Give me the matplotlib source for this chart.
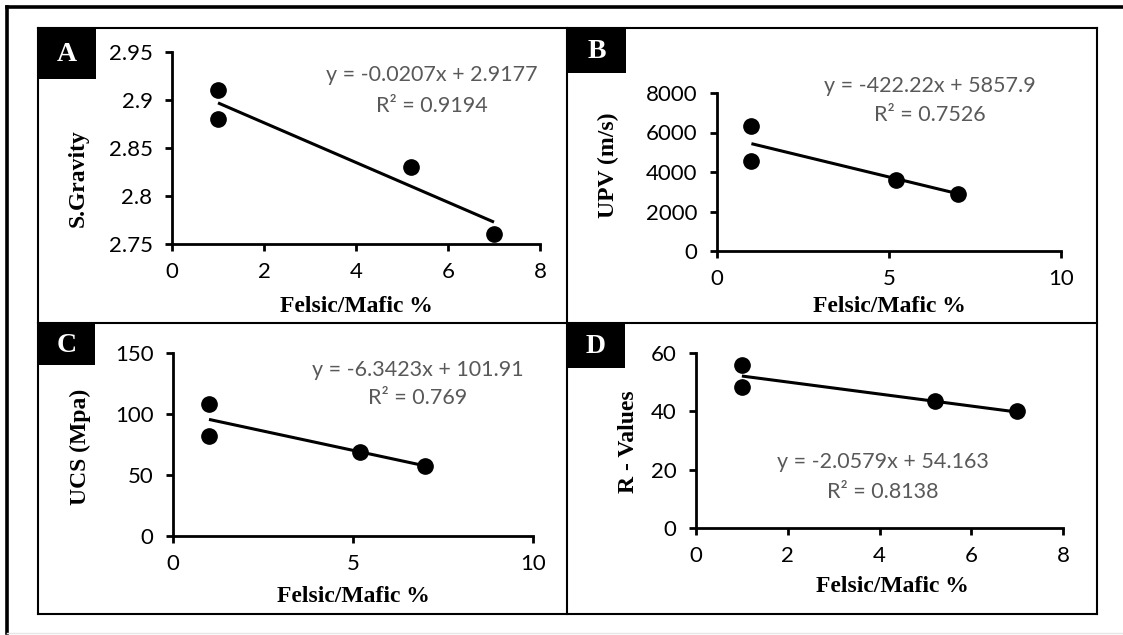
import matplotlib
matplotlib.use("Agg")
import matplotlib.pyplot as plt
from matplotlib.lines import Line2D
from matplotlib.patches import Rectangle
import numpy as np

# ---------------- data ----------------
felsic_mafic = [1.0, 1.0, 5.2, 7.0]

sgravity = [2.91, 2.88, 2.83, 2.76]
upv = [6350, 4550, 3600, 2900]
ucs = [108, 82, 69, 57]
r_values = [56, 48.5, 43.5, 40]

fits = {
    "A": (-0.0207, 2.9177, "y = -0.0207x + 2.9177", "R² = 0.9194"),
    "B": (-422.22, 5857.9, "y = -422.22x + 5857.9", "R² = 0.7526"),
    "C": (-6.3423, 101.91, "y = -6.3423x + 101.91", "R² = 0.769"),
    "D": (-2.0579, 54.163, "y = -2.0579x + 54.163", "R² = 0.8138"),
}

ylabels = {"A": "S.Gravity", "B": "UPV (m/s)", "C": "UCS (Mpa)", "D": "R - Values"}
xlabel_text = "Felsic/Mafic %"
yticks = {
    "A": [2.75, 2.8, 2.85, 2.9, 2.95],
    "B": [0, 2000, 4000, 6000, 8000],
    "C": [0, 50, 100, 150],
    "D": [0, 20, 40, 60],
}
ytick_labels = {
    "A": ["2.75", "2.8", "2.85", "2.9", "2.95"],
    "B": ["0", "2000", "4000", "6000", "8000"],
    "C": ["0", "50", "100", "150"],
    "D": ["0", "20", "40", "60"],
}
xticks = {"A": [0, 2, 4, 6, 8], "B": [0, 5, 10], "C": [0, 5, 10], "D": [0, 2, 4, 6, 8]}
series = {"A": sgravity, "B": upv, "C": ucs, "D": r_values}

# ---------------- layout (pixels) ----------------
W, H = 1123, 635
fig = plt.figure(figsize=(W / 100, H / 100), dpi=100)
fig.patch.set_facecolor("white")

def fx(px):
    return px / W

def fy(py):
    return 1 - py / H

# axes rectangles: left, right, top, bottom in pixels
ax_px = {
    "A": (172, 540, 52, 244),
    "B": (717, 1061, 93, 251),
    "C": (173, 533, 353, 536),
    "D": (696, 1063, 353, 528),
}
# label boxes: left, right, top, bottom
lab_px = {
    "A": (38, 96, 28, 79),
    "B": (567, 626, 28, 73),
    "C": (38, 95, 323, 365),
    "D": (567, 625, 323, 368),
}
# equation text centres (x, y_eq, y_r2)
eq_px = {
    "A": (432, 75, 106),
    "B": (930, 86, 115),
    "C": (418, 370, 398),
    "D": (883, 462, 492),
}
# y-label centre (x, y) and x-label centre (x, y)
ylab_px = {"A": (78, 178), "B": (608, 165), "C": (80, 447), "D": (628, 442)}
xlab_px = {"A": (356, 307), "B": (889, 306), "C": (353, 597), "D": (892, 587)}

tick_font = "Lato"
serif = "Liberation Serif"

for key in ["A", "B", "C", "D"]:
    l, r, t, b = ax_px[key]
    ax = fig.add_axes([fx(l), fy(b), fx(r) - fx(l), fy(t) - fy(b)])
    ax.set_facecolor("none")
    x = felsic_mafic
    y = series[key]
    ax.plot(x, y, "o", color="black", markersize=11, zorder=3, clip_on=False)
    m, c, eq, r2 = fits[key]
    xs = np.array([min(x), max(x)])
    ax.plot(xs, m * xs + c, color="black", linewidth=2.2, solid_capstyle="butt", zorder=2)

    ax.set_xlim(xticks[key][0], xticks[key][-1])
    ax.set_ylim(yticks[key][0], yticks[key][-1])
    ax.set_xticks(xticks[key])
    ax.set_xticklabels([str(v) for v in xticks[key]])
    ax.set_yticks(yticks[key])
    ax.set_yticklabels(ytick_labels[key])
    for s in ["top", "right"]:
        ax.spines[s].set_visible(False)
    for s in ["left", "bottom"]:
        ax.spines[s].set_linewidth(2.0)
    ax.tick_params(axis="both", direction="out", length=5, width=2.0, labelsize=16,
                   color="black", labelcolor="black")
    ax.tick_params(axis="x", pad=8)
    ax.tick_params(axis="y", pad=9)
    for lab in ax.get_xticklabels() + ax.get_yticklabels():
        lab.set_fontfamily(tick_font)

    # equation text
    ex, ey1, ey2 = eq_px[key]
    fig.text(fx(ex), fy(ey1), eq, ha="center", va="center", fontsize=15.5,
             color="#595959", family=tick_font)
    fig.text(fx(ex), fy(ey2), r2, ha="center", va="center", fontsize=15.5,
             color="#595959", family=tick_font)

    # axis titles
    yx, yy = ylab_px[key]
    fig.text(fx(yx), fy(yy), ylabels[key], rotation=90, ha="center", va="center",
             fontsize=17, fontweight="bold", family=serif, color="black")
    xx, xy = xlab_px[key]
    fig.text(fx(xx), fy(xy), xlabel_text, ha="center", va="center",
             fontsize=17, fontweight="bold", family=serif, color="black")

    # panel letter box
    bl, br, bt, bb = lab_px[key]
    fig.patches.append(Rectangle((fx(bl), fy(bb)), fx(br) - fx(bl), fy(bt) - fy(bb),
                                 transform=fig.transFigure, facecolor="black",
                                 edgecolor="none", zorder=5))
    fig.text((fx(bl) + fx(br)) / 2, (fy(bt) + fy(bb)) / 2 - 0.002, key, ha="center",
             va="center", fontsize=20, fontweight="bold", family=serif, color="white",
             zorder=6)

# panel grid
def hline(y, x0, x1, lw, color="black"):
    fig.lines.append(Line2D([fx(x0), fx(x1)], [fy(y), fy(y)], transform=fig.transFigure,
                            color=color, linewidth=lw, solid_capstyle="projecting"))

def vline(x, y0, y1, lw, color="black"):
    fig.lines.append(Line2D([fx(x), fx(x)], [fy(y0), fy(y1)], transform=fig.transFigure,
                            color=color, linewidth=lw, solid_capstyle="projecting"))

grid_lw = 1.5
hline(28, 38, 1097, grid_lw)
hline(323, 38, 1097, grid_lw)
hline(614, 38, 1097, grid_lw)
vline(38, 28, 614, grid_lw)
vline(567, 28, 614, grid_lw)
vline(1097, 28, 614, grid_lw)

# outer frame
hline(7, 7, 1125, 2.6)
vline(7, 7, 633, 2.6)
hline(633, 7, 1123, 1.0, color="#e6e6e6")

fig.savefig("out.png", dpi=100, facecolor="white")
